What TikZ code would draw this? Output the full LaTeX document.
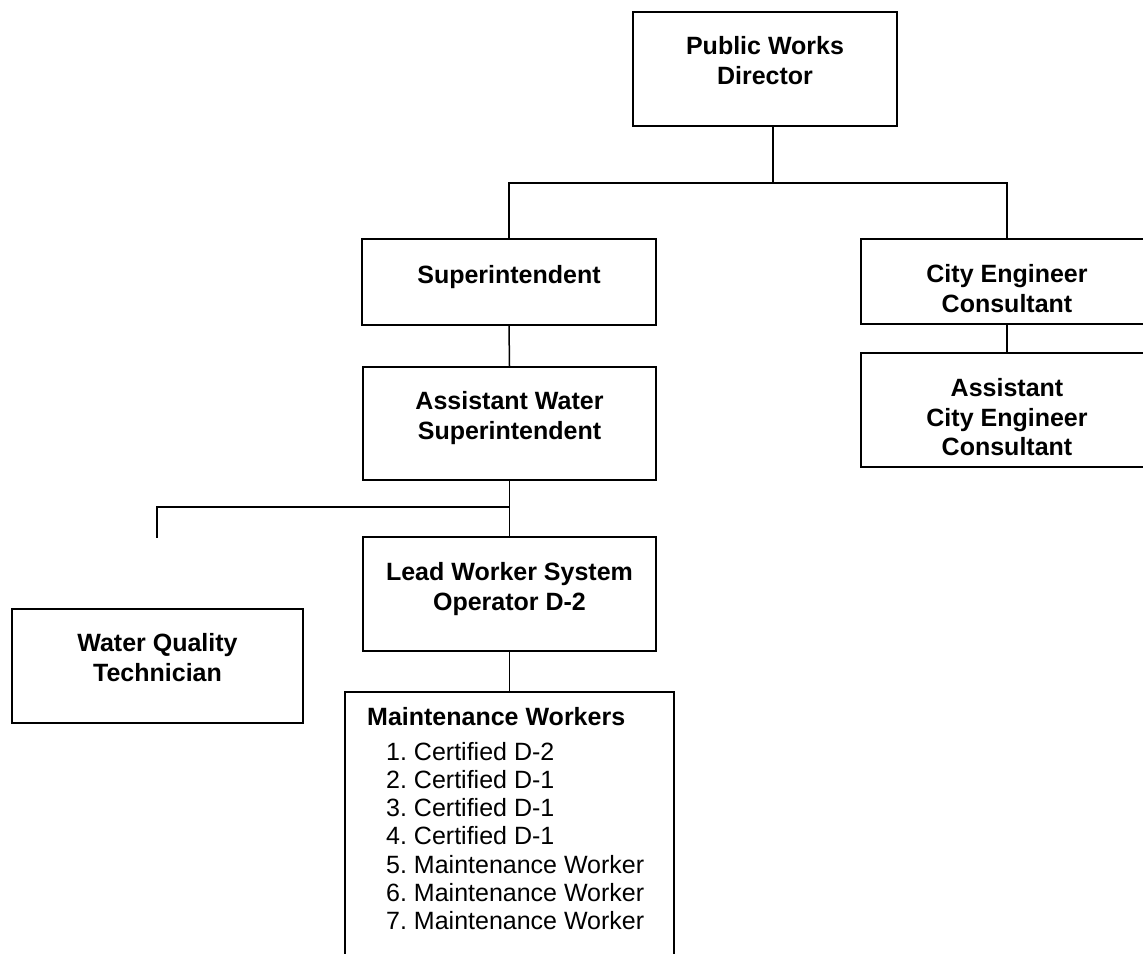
\documentclass[tikz,border=0pt]{standalone}
\usepackage{fontspec}
\setmainfont{Liberation Sans}
\begin{document}
\begin{tikzpicture}[
        x=1pt,y=-1pt,
        box/.style={draw,line width=1.5pt,inner sep=0pt},
        boxtext/.style={anchor=north,align=center,inner sep=0pt,
            font=\fontsize{25}{29.5}\selectfont\bfseries},
        listitem/.style={anchor=base west,inner sep=0pt,
            font=\fontsize{25}{28}\selectfont},
        conn/.style={line width=1.5pt},
        line join=miter
    ]
    \useasboundingbox (0,0) rectangle (1143,953);
    \node[box,minimum width=264pt,minimum height=114pt] (pwd) at (765,69) {};
    \node[box,minimum width=294pt,minimum height=86pt] (sup) at (509,282) {};
    \node[box,minimum width=292pt,minimum height=85pt] (ce) at (1007,281.5) {};
    \node[box,minimum width=292pt,minimum height=114pt] (ace) at (1007,410) {};
    \node[box,minimum width=293pt,minimum height=113pt] (aws) at (509.5,423.5) {};
    \node[box,minimum width=293pt,minimum height=114pt] (lead) at (509.5,594) {};
    \node[box,minimum width=291pt,minimum height=114pt] (wqt) at (157.5,666) {};
    \node[box,minimum width=329pt,minimum height=300pt] (mw) at (509.5,842) {};
    \node[boxtext] (pwdtext) at ([yshift=-25pt]pwd.north) {Public Works\\Director};
    \node[boxtext] (suptext) at ([yshift=-27pt]sup.north) {Superintendent};
    \node[boxtext] (cetext) at ([yshift=-26pt]ce.north) {City Engineer\\Consultant};
    \node[boxtext] (acetext) at ([yshift=-26pt]ace.north) {Assistant\\City Engineer\\Consultant};
    \node[boxtext] (awstext) at ([yshift=-25pt]aws.north) {Assistant Water\\Superintendent};
    \node[boxtext] (leadtext) at ([yshift=-26pt]lead.north) {Lead Worker System\\Operator D-2};
    \node[boxtext] (wqttext) at ([yshift=-25pt]wqt.north) {Water Quality\\Technician};
    \node[listitem,font=\fontsize{25}{28}\selectfont\bfseries] (mwtitle) at (367,725) {Maintenance Workers};
    \foreach \n/\job in {1/Certified D-2,2/Certified D-1,3/Certified D-1,4/Certified D-1,
            5/Maintenance Worker,6/Maintenance Worker,7/Maintenance Worker}
        \node[listitem] (mw\n) at (386,{760+28.3*(\n-1)}) {\n.\ \job};
    \coordinate (top) at (773,183);
    \coordinate (branch) at (509,507);
    \coordinate (wqtend) at (157,538);
    \draw[conn] (pwd.south -| top) -- (top);
    \draw[conn] (sup.north) |- (top) -| (ce.north);
    \draw[conn] (sup.south) -- (aws.north);
    \draw[conn] (ce.south) -- (ace.north);
    \draw[conn] (aws.south) -- (lead.north);
    \draw[conn] (branch) -| (wqtend);
    \draw[conn] (lead.south) -- (mw.north);
\end{tikzpicture}
\end{document}
